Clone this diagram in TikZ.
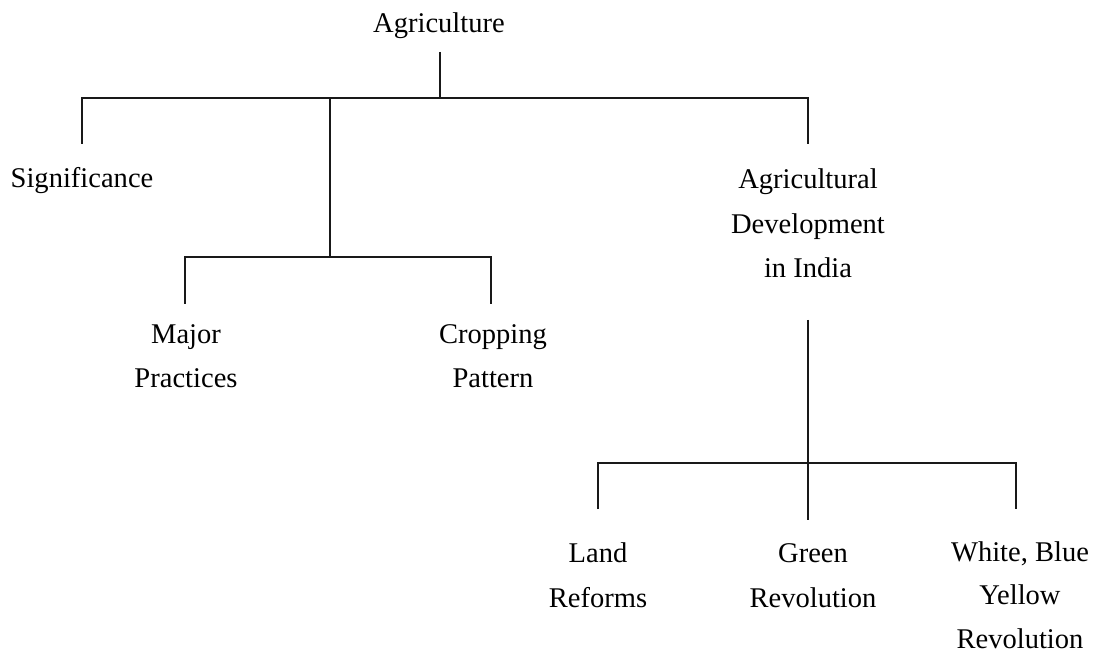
\documentclass[tikz,border=0pt]{standalone}
\usepackage{fontspec}
\setmainfont{Liberation Serif}

\tikzset{
  lbl/.style={draw=none, align=center, anchor=base, font=\fontsize{20.3}{32}\selectfont},
  tie/.style={line width=0.8pt, black!90}
}

\begin{document}
\begin{tikzpicture}

\useasboundingbox (0,0) rectangle (27.575,-16.35);

% level 0
\node[lbl] (agri) at (10.975,-0.825) {Agriculture};
\coordinate (agrilow) at (11,-1.3);
\coordinate (bar0) at (11,-2.45);
\draw[tie] (agrilow) -- (bar0);

% level 1 (base = last line)
\node[lbl] (sig) at (2.05,-4.7) {Significance};
\node[lbl] (dev) at (20.2,-6.95) {Agricultural\\Development\\in India};
\coordinate (sigtop) at (2.05,-3.6);
\coordinate (devtop) at (20.2,-3.6);
\draw[tie] (sigtop) |- (bar0) -| (devtop);

\coordinate (mid0) at (8.25,-2.45);
\coordinate (mid1) at (8.25,-6.425);
\draw[tie] (mid0) -- (mid1);

% level 2, left
\node[lbl] (major) at (4.65,-9.7) {Major\\Practices};
\node[lbl] (crop) at (12.325,-9.7) {Cropping\\Pattern};
\coordinate (majtop) at (4.625,-7.6);
\coordinate (croptop) at (12.275,-7.6);
\draw[tie] (majtop) |- (mid1) -| (croptop);

% level 2, right
\coordinate (devlow) at (20.2,-8.0);
\coordinate (bar3) at (20.2,-11.575);
\coordinate (greentop) at (20.2,-13.0);
\draw[tie] (devlow) -- (greentop);

\node[lbl] (land) at (14.95,-15.175) {Land\\Reforms};
\node[lbl] (green) at (20.325,-15.175) {Green\\Revolution};
\node[lbl, inner sep=0pt, font=\fontsize{20.3}{30.8}\selectfont] (white) at (25.5,-16.2) {White, Blue\\Yellow\\Revolution};
\coordinate (landtop) at (14.95,-12.725);
\coordinate (whitetop) at (25.4,-12.725);
\draw[tie] (landtop) |- (bar3) -| (whitetop);

\end{tikzpicture}
\end{document}
